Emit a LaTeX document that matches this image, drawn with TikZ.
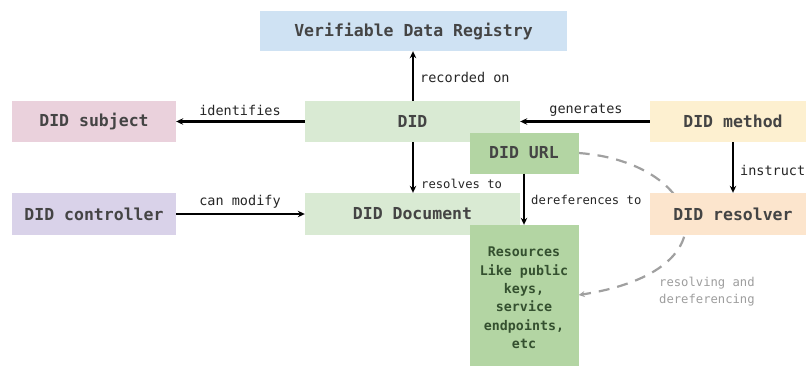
\documentclass[tikz,border=0pt]{standalone}
\usepackage{fontspec}
\setmonofont{DejaVu Sans Mono}
\usetikzlibrary{arrows.meta,backgrounds}
\definecolor{regblue}{HTML}{CFE2F3}
\definecolor{subjpink}{HTML}{EAD1DC}
\definecolor{paleGreen}{HTML}{D9EAD3}
\definecolor{midGreen}{HTML}{B3D5A3}
\definecolor{methodyellow}{HTML}{FDF0D0}
\definecolor{ctrlpurple}{HTML}{D9D2E9}
\definecolor{resorange}{HTML}{FCE5CD}
\definecolor{boxtext}{HTML}{444444}
\definecolor{greentext}{HTML}{34502F}
\definecolor{dashgray}{HTML}{A0A0A0}
\tikzset{
  box/.style={fill=#1, draw=none, inner sep=0pt, text=boxtext,
    font=\ttfamily\bfseries\fontsize{16.5}{20}\selectfont},
  rel/.style={draw=black, line width=2.2pt,
    -{Stealth[length=7pt,width=6.5pt]}},
  lbl/.style={inner sep=0pt, text=black!85,
    font=\ttfamily\fontsize{13.5}{16}\selectfont},
  smalllbl/.style={lbl, font=\ttfamily\fontsize{12.2}{15}\selectfont},
  softlbl/.style={inner sep=0pt, text=black!38, align=left,
    font=\ttfamily\fontsize{12.2}{17}\selectfont},
  dashlink/.style={draw=dashgray, line width=2.2pt,
    dash pattern=on 11pt off 8pt,
    -{Stealth[length=6pt,width=6pt]}},
}
\begin{document}
\begin{tikzpicture}[x=1pt,y=-1pt]
\useasboundingbox (0,0) rectangle (806,365);

% boxes
\node[box=regblue, minimum width=307pt, minimum height=40pt] (reg) at (413.5,31) {Verifiable Data Registry};
\node[box=subjpink, minimum width=164pt, minimum height=41pt] (subj) at (94,121.5) {DID subject};
\node[box=paleGreen, minimum width=215pt, minimum height=41pt] (did) at (412.5,121.5) {DID};
\node[box=methodyellow, minimum width=166pt, minimum height=41pt] (method) at (733,121.5) {DID method};
\node[box=midGreen, minimum width=109pt, minimum height=41pt] (url) at (524,153) {DID URL};
\node[box=ctrlpurple, minimum width=164pt, minimum height=42pt] (ctrl) at (94,214) {DID controller};
\node[box=paleGreen, minimum width=215pt, minimum height=42pt] (doc) at (412.5,214) {DID Document};
\node[box=resorange, minimum width=166pt, minimum height=42pt] (res) at (733,214) {DID resolver};
\node[box=midGreen, minimum width=109pt, minimum height=146pt, align=center, text=greentext,
  font=\ttfamily\bfseries\fontsize{13.3}{18.4}\selectfont] (rsc) at (524,298)
  {Resources\\Like public\\keys,\\service\\endpoints,\\etc};

% relations
\draw[rel] (did.north -| 413,0) -- (reg.south -| 413,0);
\node[lbl, anchor=west] (recorded) at (420,77) {recorded on};
\draw[rel] (did.west) -- (subj.east);
\node[lbl] (identifies) at (240,110) {identifies};
\draw[rel] (method.west) -- (did.east);
\node[lbl] (generates) at (586,110) {generates};
\draw[rel] (did.south -| 413,0) -- (doc.north -| 413,0);
\node[smalllbl, anchor=west] (resolves) at (421,184) {resolves to};
\draw[rel] (ctrl.east) -- (doc.west);
\node[lbl] (modify) at (240,202) {can modify};
\draw[rel] (url.south) -- (rsc.north);
\node[smalllbl, anchor=west] (deref) at (531,200) {dereferences to};
\draw[rel] (method.south) -- (res.north);
\node[lbl, anchor=west] (instruct) at (740,170) {instruct};

% white page, then the resolver link, which passes behind the resolver box
\begin{pgfonlayer}{background}
\fill[white] (0,0) rectangle (806,365);
\draw[dashlink] (url.east) .. controls (700,162) and (740,270) .. (rsc.east |- 0,295);
\end{pgfonlayer}
\node[softlbl, anchor=north west] (resolving) at (659,277) {resolving and\\dereferencing};
\end{tikzpicture}
\end{document}
